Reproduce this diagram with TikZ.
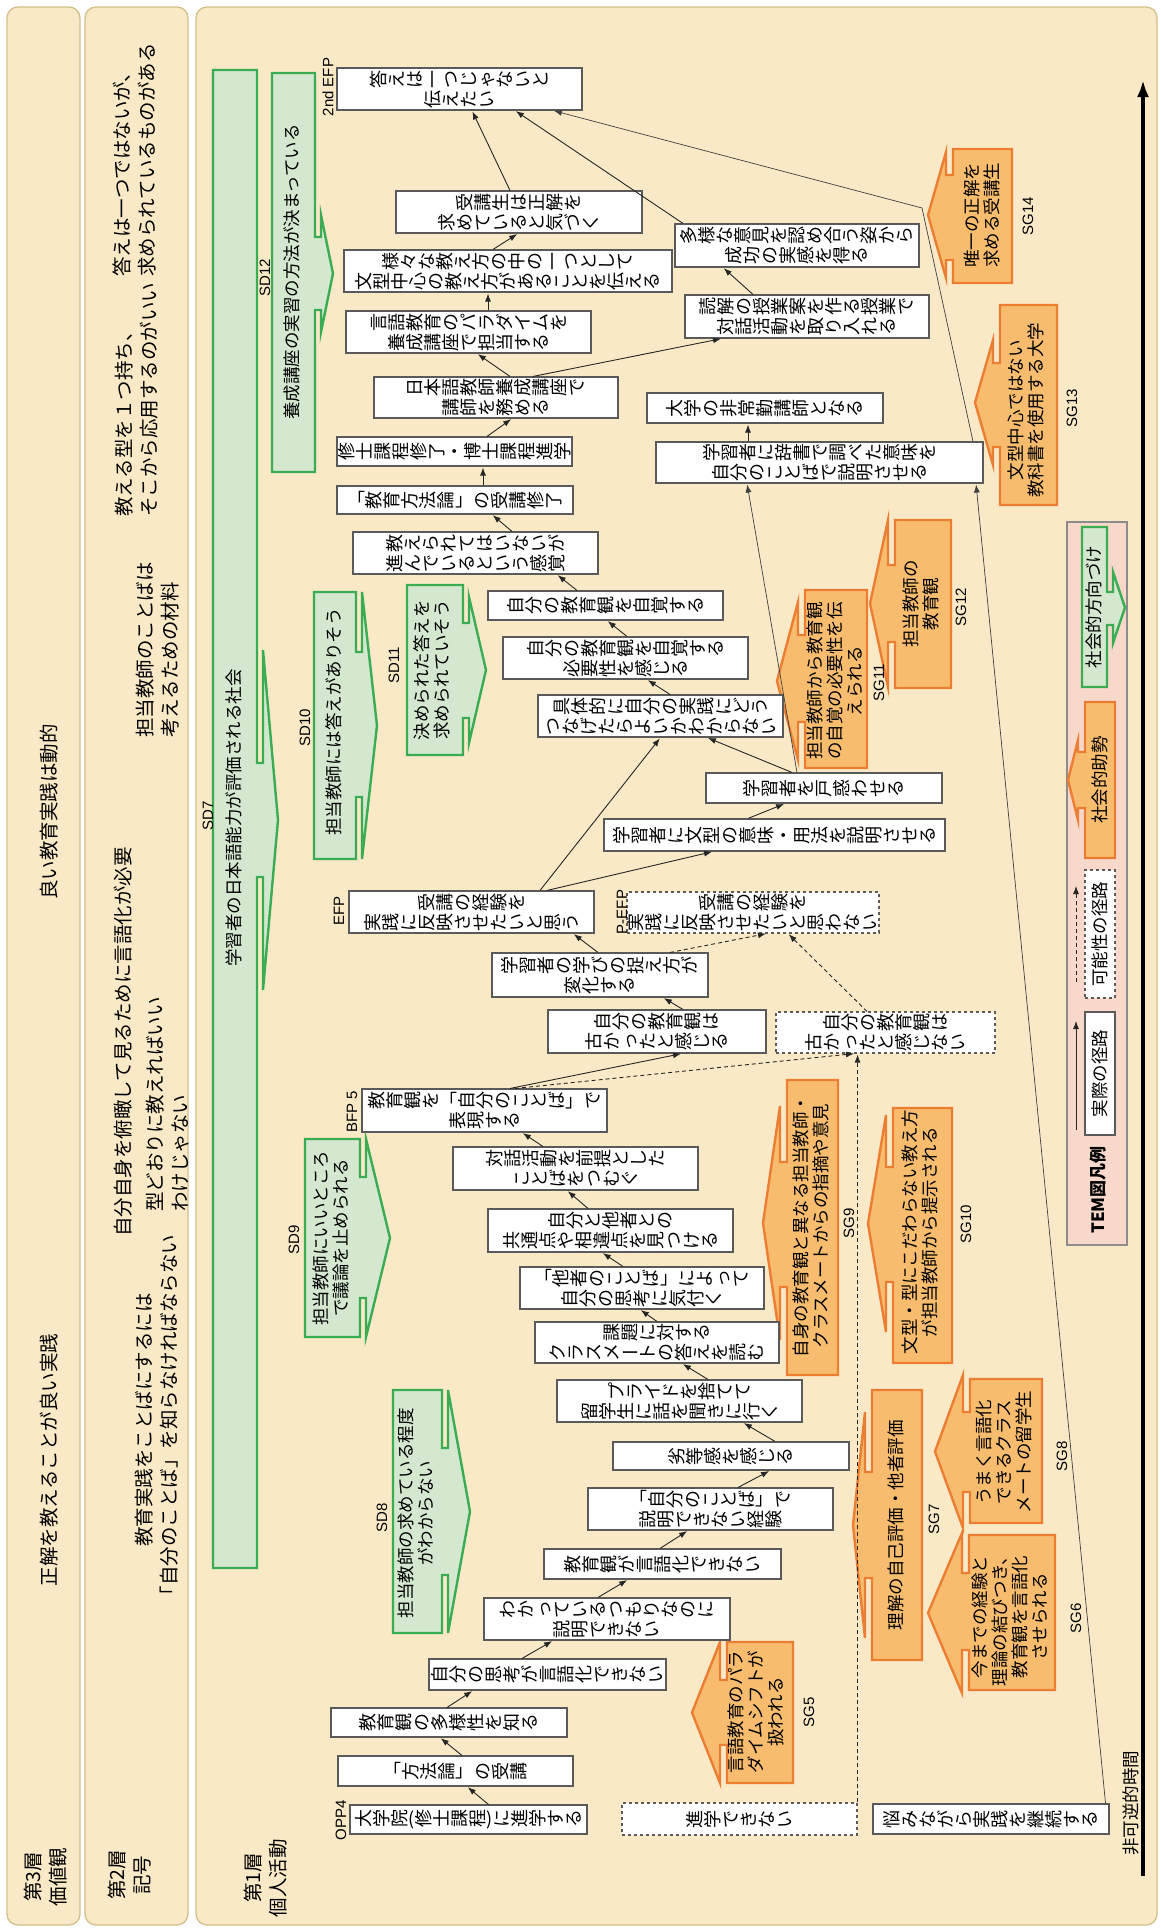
\documentclass[tikz,border=0pt]{standalone}
\usepackage{fontspec}
\setmainfont{Noto Sans CJK JP}
\newfontfamily\latinfont{Liberation Sans}
\usepackage{graphicx}
\usetikzlibrary{arrows.meta}

\makeatletter
% text set as in vertical writing, then laid on its side:
% each full-width glyph is turned a quarter turn counter-clockwise
\def\tate#1{\tate@loop#1\tate@end}
\def\tate@end{\tate@end}
\def\tate@loop#1{%
  \ifx#1\tate@end\let\tate@next\relax
  \else\ifx#1\\\def\tate@next{\\\relax\tate@loop}%
  \else\def\tate@next{\tate@char{#1}\tate@loop}%
  \fi\fi\tate@next}
\def\tate@char#1{%
  \ifnum`#1<"2000 #1%
  \else\ifnum`#1="30FC #1%
  \else\ifnum`#1="300C #1%
  \else\ifnum`#1="300D #1%
  \else\rotatebox[origin=c]{90}{\rule[-0.12em]{0pt}{1em}#1}%
  \fi\fi\fi\fi}
\makeatother

\definecolor{panelfill}{RGB}{250,233,198}
\definecolor{panelline}{RGB}{212,190,138}
\definecolor{sdfill}{RGB}{212,232,208}
\definecolor{sdline}{RGB}{58,172,84}
\definecolor{sgfill}{RGB}{247,188,110}
\definecolor{sgline}{RGB}{236,126,52}
\definecolor{legfill}{RGB}{248,216,202}
\definecolor{legline}{RGB}{140,140,140}
\definecolor{boxline}{RGB}{90,90,90}

% box of the path: corners x1 y1 x2 y2, text
\newcommand\tbox[7][]{%
  \node[tbox,#1,minimum width={#5-#3},minimum height={#6-#4}] (#2)
    at ({(#3+#5)/2},{(#4+#6)/2}) {\tate{#7}};}
% social direction, head to the right: L T R B headtop shafttop shaftbottom headbottom tipx
\newcommand\sdarrow[9]{%
  \filldraw[sdshape] (#1,#2) -- (#3,#2) -- (#3,#6) -- ({#3+6},#6) -- ({#3+6},#5)
    -- (#9,{(#5+#8)/2}) -- ({#3+6},#8) -- ({#3+6},#7) -- (#3,#7) -- (#3,#4)
    -- (#1,#4) -- cycle;}
% social guidance, head to the left
\newcommand\sgarrow[9]{%
  \filldraw[sgshape] (#3,#2) -- (#1,#2) -- (#1,#6) -- ({#1-7},#6) -- ({#1-7},#5)
    -- (#9,{(#5+#8)/2}) -- ({#1-7},#8) -- ({#1-7},#7) -- (#1,#7) -- (#1,#4)
    -- (#3,#4) -- cycle;}

\begin{document}
\begin{tikzpicture}[x=1pt,y=-1pt,
  panel/.style={draw=panelline,fill=panelfill,line width=1.3pt,rounded corners=11pt},
  tbox/.style={draw=boxline,fill=white,line width=1.1pt,inner sep=0pt,align=center,
    font=\fontsize{18}{20}\selectfont},
  sdshape/.style={draw=sdline,fill=sdfill,line width=2.4pt,line join=miter},
  sgshape/.style={draw=sgline,fill=sgfill,line width=2.4pt,line join=miter},
  rtext/.style={rotate=90,align=center,inner sep=0pt,font=\fontsize{17.5}{20}\selectfont},
  ptext/.style={rotate=90,align=left,inner sep=0pt,font=\fontsize{19.5}{25}\selectfont},
  lbl/.style={rotate=90,inner sep=0pt,font=\latinfont\fontsize{15}{17}\selectfont},
  arr/.style={-{Latex[length=8pt,width=6pt]},line width=0.9pt,draw=black!85,shorten >=1pt},
  darr/.style={arr,dash pattern=on 4pt off 3pt},
  thin/.style={-{Latex[length=8pt,width=6pt]},line width=0.7pt,draw=black!75,shorten >=1pt}]

\useasboundingbox (0,0) rectangle (1160,1928);

% ---------- layers ----------
\filldraw[panel] (7,7) rectangle (80,1925);
\filldraw[panel] (85,7) rectangle (188,1925);
\filldraw[panel] (196,7) rectangle (1157,1925);

\node[ptext,align=center] (l3) at (46,1877) {第3層\\価値観};
\node[ptext,align=center] (l2) at (130,1875) {第2層\\記号};
\node[ptext,align=center] (l1) at (266,1878) {第1層\\個人活動};

\node[ptext] (v1) at (49,812) {良い教育実践は動的};
\node[ptext] (v2) at (49,1460) {正解を教えることが良い実践};

\node[ptext,anchor=west] (s1) at (134,277) {答えは一つではないが、\\求められているものがある};
\node[ptext,anchor=west] (s2) at (137,517) {教える型を１つ持ち、\\そこから応用するのがいい};
\node[ptext,anchor=west] (s3) at (158,738) {担当教師のことばは\\考えるための材料};
\node[ptext] (s4) at (123,1042) {自分自身を俯瞰して見るために言語化が必要};
\node[ptext,anchor=west] (s5) at (168,1212) {型どおりに教えればいい\\わけじゃない};
\node[ptext,align=center] (s6) at (157,1420) {教育実践をことばにするには\\「自分のことば」を知らなければならない};

% ---------- time ----------
\coordinate (tstart) at (1143,1876);
\coordinate (tend) at (1143,80);
\draw[line width=3.6pt,-{Latex[length=17pt,width=12pt]}] (tstart) -- (tend);
\node[rtext] (time) at (1131,1803) {非可逆的時間};

% ---------- social direction ----------
\sdarrow{213}{70}{257}{1568}{650}{763}{877}{990}{278}
\sdarrow{272}{73}{315}{472}{215}{237}{310}{332}{333}
\sdarrow{314}{592}{356}{859}{592}{652}{797}{859}{377}
\sdarrow{407}{585}{463}{755}{597}{623}{718}{743}{486}
\sdarrow{305}{1139}{360}{1337}{1139}{1177}{1298}{1337}{390}
\sdarrow{393}{1390}{442}{1633}{1390}{1448}{1575}{1633}{470}

\node[rtext] (sd7) at (234,818) {学習者の日本語能力が評価される社会};
\node[rtext] (sd12) at (292,272) {養成講座の実習の方法が決まっている};
\node[rtext] (sd10) at (334,722) {担当教師には答えがありそう};
\node[rtext] (sd11) at (432,670) {決められた答えを\\求められていそう};
\node[rtext] (sd9) at (331,1238) {担当教師にいいところ\\で議論を止められる};
\node[rtext] (sd8) at (416,1513) {担当教師の求めている程度\\がわからない};

\node[lbl] at (208,816) {SD7};
\node[lbl] at (265,278) {SD12};
\node[lbl] at (305,728) {SD10};
\node[lbl] at (394,665) {SD11};
\node[lbl] at (294,1240) {SD9};
\node[lbl] at (382,1518) {SD8};

% ---------- social guidance ----------
\sgarrow{953}{149}{1012}{283}{152}{175}{260}{278}{928}
\sgarrow{1000}{305}{1057}{505}{340}{363}{447}{465}{975}
\sgarrow{895}{520}{951}{688}{520}{565}{642}{687}{870}
\sgarrow{805}{590}{867}{768}{602}{635}{722}{760}{777}
\sgarrow{893}{1108}{952}{1363}{1115}{1167}{1282}{1332}{868}
\sgarrow{787}{1080}{838}{1375}{1106}{1162}{1287}{1340}{763}
\sgarrow{872}{1390}{922}{1660}{1412}{1472}{1578}{1638}{853}
\sgarrow{970}{1379}{1042}{1523}{1375}{1412}{1492}{1528}{935}
\sgarrow{969}{1535}{1055}{1690}{1533}{1573}{1650}{1693}{928}
\sgarrow{727}{1642}{793}{1783}{1642}{1680}{1745}{1783}{692}

\node[rtext] (sg14) at (982,215) {唯一の正解を\\求める受講生};
\node[rtext] (sg13) at (1026,410) {文型中心ではない\\教科書を使用する大学};
\node[rtext] (sg12) at (921,604) {担当教師の\\教育観};
\node[rtext] (sg11) at (835,681) {担当教師から教育観\\の自覚の必要性を伝\\えられる};
\node[rtext] (sg10) at (920,1232) {文型・型にこだわらない教え方\\が担当教師から提示される};
\node[rtext] (sg9) at (811,1226) {自身の教育観と異なる担当教師・\\クラスメートからの指摘や意見};
\node[rtext] (sg7) at (896,1525) {理解の自己評価・他者評価};
\node[rtext] (sg8) at (1004,1452) {うまく言語化\\できるクラス\\メートの留学生};
\node[rtext] (sg6) at (1010,1617) {今までの経験と\\理論の結びつき、\\教育観を言語化\\させられる};
\node[rtext] (sg5) at (756,1712) {言語教育のパラ\\ダイムシフトが\\扱われる};

\node[lbl] at (1028,216) {SG14};
\node[lbl] at (1072,408) {SG13};
\node[lbl] at (961,607) {SG12};
\node[lbl] at (879,683) {SG11};
\node[lbl] at (966,1224) {SG10};
\node[lbl] at (849,1223) {SG9};
\node[lbl] at (934,1519) {SG7};
\node[lbl] at (1062,1456) {SG8};
\node[lbl] at (1076,1618) {SG6};
\node[lbl] at (809,1712) {SG5};

% ---------- path ----------
\tbox{opp}{350}{1805}{587}{1834}{大学院(修士課程)に進学する}
\tbox{hoho}{338}{1756}{573}{1786}{「方法論」の受講}
\tbox{tayo}{331}{1708}{567}{1737}{教育観の多様性を知る}
\tbox{shiko}{429}{1659}{666}{1690}{自分の思考が言語化できない}
\tbox{wakatte}{484}{1598}{730}{1640}{わかっているつもりなのに\\説明できない}
\tbox{gengoka}{544}{1549}{781}{1579}{教育観が言語化できない}
\tbox{keiken}{588}{1488}{833}{1530}{「自分のことば」で\\説明できない経験}
\tbox{retto}{613}{1442}{849}{1470}{劣等感を感じる}
\tbox{pride}{557}{1380}{802}{1422}{プライドを捨てて\\留学生に話を聞きに行く}
\tbox{kadai}{535}{1322}{779}{1363}{課題に対する\\クラスメートの答えを読む}
\tbox{tasha}{520}{1267}{764}{1309}{「他者のことば」によって\\自分の思考に気付く}
\tbox{kyotsu}{488}{1209}{733}{1252}{自分と他者との\\共通点や相違点を見つける}
\tbox{taiwa}{453}{1147}{698}{1190}{対話活動を前提とした\\ことばをつむぐ}
\tbox{bfp}{362}{1089}{607}{1132}{教育観を「自分のことば」で\\表現する}
\tbox{furui}{548}{1010}{766}{1053}{自分の教育観は\\古かったと感じる}
\tbox{toraekata}{492}{953}{708}{997}{学習者の学びの捉え方が\\変化する}
\tbox{efp}{349}{891}{594}{933}{受講の経験を\\実践に反映させたいと思う}
\tbox[dashed]{pefp}{628}{892}{878}{933}{受講の経験を\\実践に反映させたいと思わない}
\tbox[dashed]{furuinai}{776}{1012}{995}{1053}{自分の教育観は\\古かったと感じない}
\tbox[dashed]{shingakuno}{622}{1803}{857}{1835}{進学できない}
\tbox{nayami}{873}{1804}{1109}{1834}{悩みながら実践を継続する}
\tbox{bunkei}{604}{819}{945}{851}{学習者に文型の意味・用法を説明させる}
\tbox{tomadou}{706}{773}{942}{803}{学習者を戸惑わせる}
\tbox{gutai}{538}{695}{783}{737}{具体的に自分の実践にどう\\つなげたらよいかわからない}
\tbox{hitsuyo}{503}{637}{748}{679}{自分の教育観を自覚する\\必要性を感じる}
\tbox{jikaku}{488}{591}{723}{620}{自分の教育観を自覚する}
\tbox{susundeiru}{353}{532}{598}{574}{教えられてはいないが\\進んでいるという感覚}
\tbox{hohoron}{337}{486}{573}{514}{「教育方法論」の受講修了}
\tbox{shushi}{337}{437}{572}{466}{修士課程修了・博士課程進学}
\tbox{koshi}{374}{377}{618}{418}{日本語教師養成講座で\\講師を務める}
\tbox{paradigm}{346}{311}{591}{353}{言語教育のパラダイムを\\養成講座で担当する}
\tbox{samazama}{344}{250}{672}{292}{様々な教え方の中の一つとして\\文型中心の教え方があることを伝える}
\tbox{seikai}{396}{191}{642}{233}{受講生は正解を\\求めていると気づく}
\tbox{efp2}{337}{68}{582}{110}{答えは一つじゃないと\\伝えたい}
\tbox{tayona}{675}{224}{919}{267}{多様な意見を認め合う姿から\\成功の実感を得る}
\tbox{dokkai}{685}{295}{929}{338}{読解の授業案を作る授業で\\対話活動を取り入れる}
\tbox{hijokin}{647}{393}{883}{423}{大学の非常勤講師となる}
\tbox{jisho}{656}{442}{983}{483}{学習者に辞書で調べた意味を\\自分のことばで説明させる}

\node[lbl] at (341,1820) {OPP4};
\node[lbl] at (352,1112) {BFP 5};
\node[lbl] at (339,911) {EFP};
\node[lbl] at (622,912) {P-EFP};
\node[lbl] at (328,87) {2nd EFP};

% ---------- connectors ----------
\draw[arr] ([xshift=20]opp.north) -- ([xshift=11.5]hoho.south);
\draw[arr] ([xshift=6.5]hoho.north) -- ([xshift=-9]tayo.south);
\draw[arr] ([xshift=-2]tayo.north) -- ([xshift=-74.5]shiko.south);
\draw[arr] ([xshift=-25.5]shiko.north) -- ([xshift=-54]wakatte.south);
\draw[arr] ([xshift=-9]wakatte.north) -- ([xshift=-34.5]gengoka.south);
\draw[arr] ([xshift=-2.5]gengoka.north) -- ([xshift=-22.5]keiken.south);
\draw[arr] ([xshift=27.5]keiken.north) -- ([xshift=39]retto.south);
\draw[arr] ([xshift=44]retto.north) -- ([xshift=63.5]pride.south);
\draw[arr] ([xshift=28.5]pride.north) -- ([xshift=25]kadai.south);
\draw[arr] (kadai.north) -- ([xshift=-2]tasha.south);
\draw[arr] ([xshift=-19]tasha.north) -- ([xshift=-8.5]kyotsu.south);
\draw[arr] ([xshift=-22.5]kyotsu.north) -- ([xshift=-8.5]taiwa.south);
\draw[arr] ([xshift=-32.5]taiwa.north) -- ([xshift=37.5]bfp.south);
\draw[arr] ([xshift=25.5]bfp.north) -- ([xshift=25]furui.south);
\draw[darr] ([xshift=30.5]bfp.north) -- ([xshift=-30.5]furuinai.south);
\draw[arr] ([xshift=26]furui.north) -- ([xshift=63]toraekata.south);
\draw[arr] ([xshift=-2]toraekata.north) -- ([xshift=101.5]efp.south);
\draw[darr] ([xshift=70]toraekata.north) -- ([xshift=14]pefp.south);
\draw[darr] ([xshift=-18.5]furuinai.north) -- ([xshift=35]pefp.south);
\draw[darr] (shingakuno.north east) -- (shingakuno.north east |- furuinai.south);
\draw[thin] ([xshift=-4]nayami.north east) -- ([xshift=156.5]jisho.south);
\draw[arr] ([xshift=68.5]efp.north) -- (gutai.south);
\draw[arr] ([xshift=75.5]efp.north) -- ([xshift=-61.5]bunkei.south);
\draw[arr] ([xshift=-26.5]bunkei.north) -- ([xshift=-39]tomadou.south);
\draw[arr] ([xshift=-32]tomadou.north) -- ([xshift=46.5]gutai.south);
\draw[thin] ([xshift=-27]tomadou.north) -- ([xshift=-72.5]jisho.south);
\draw[arr] ([xshift=9.5]gutai.north) -- ([xshift=21.5]hitsuyo.south);
\draw[arr] ([xshift=1.5]hitsuyo.north) -- ([xshift=1.5]jikaku.south);
\draw[arr] ([xshift=-28.5]jikaku.north) -- ([xshift=81.5]susundeiru.south);
\draw[arr] ([xshift=36.5]susundeiru.north) -- ([xshift=37]hohoron.south);
\draw[arr] ([xshift=28]hohoron.north) -- ([xshift=28.5]shushi.south);
\draw[arr] ([xshift=32.5]shushi.north) -- ([xshift=16]koshi.south);
\draw[arr] ([xshift=14]koshi.north) -- ([xshift=8.5]paradigm.south);
\draw[arr] ([xshift=37]koshi.north) -- ([xshift=-85]dokkai.south);
\draw[arr] ([xshift=19.5]paradigm.north) -- ([xshift=-20]samazama.south);
\draw[arr] ([xshift=-15]samazama.north) -- ([xshift=-1]seikai.south);
\draw[arr] ([xshift=-9]seikai.north) -- ([xshift=12.5]efp2.south);
\draw[arr] ([xshift=-114]tayona.north) -- ([xshift=55.5]efp2.south);
\draw[arr] ([xshift=-54]dokkai.north) -- ([xshift=-74]tayona.south);
\draw[arr] ([xshift=-71.5]jisho.north) -- ([xshift=-17]hijokin.south);
\coordinate (bend) at (922,208);
\draw[thin] ([xshift=153.5]jisho.north) -- (bend) -- ([xshift=93.5]efp2.south);

% ---------- legend ----------
\filldraw[draw=legline,fill=legfill,line width=1.1pt] (1067,522) rectangle (1127,1245);
\sdarrow{1082}{527}{1107}{687}{572}{592}{625}{643}{1125}
\node[rtext] (legsd) at (1094,607) {社会的方向づけ};
\sgarrow{1085}{702}{1115}{858}{740}{752}{808}{820}{1068}
\node[rtext] (legsg) at (1100,780) {社会的助勢};
\node[tbox,dashed,minimum width=30,minimum height=128] (legp) at (1100,934) {};
\node[rtext] at (legp) {可能性の径路};
\node[tbox,minimum width=30,minimum height=123] (lega) at (1100,1073.5) {};
\node[rtext] at (lega) {実際の径路};
\coordinate (lpa) at (1076,982);
\coordinate (lpb) at (1076,885);
\draw[darr] (lpa) -- (lpb);
\coordinate (laa) at (1076,1130);
\coordinate (lab) at (1076,1020);
\draw[arr] (laa) -- (lab);
\node[rtext,font=\bfseries\fontsize{17}{20}\selectfont] (legt) at (1098,1190) {TEM図凡例};

\end{tikzpicture}
\end{document}
